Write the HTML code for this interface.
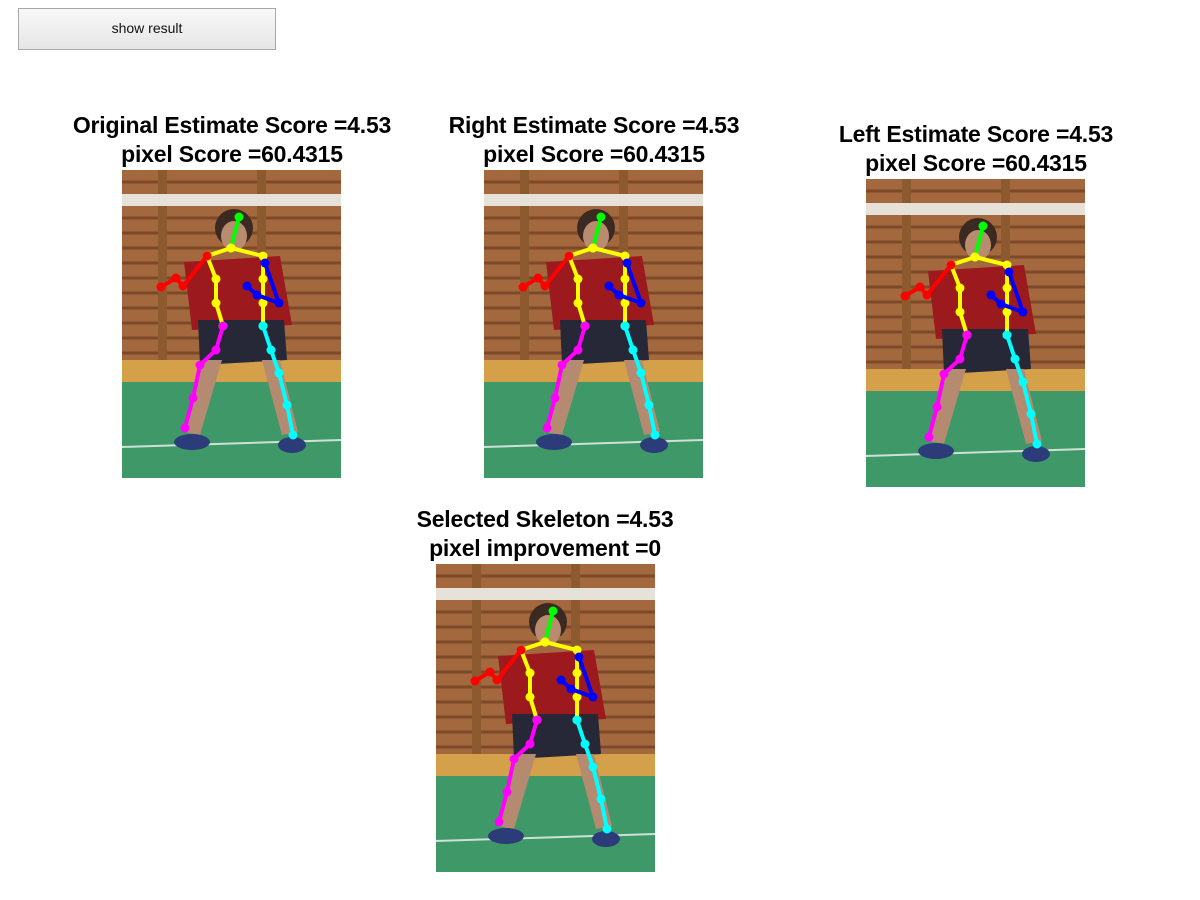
<!DOCTYPE html>
<html><head><meta charset="utf-8"><style>
body{margin:0;width:1200px;height:900px;background:#fff;position:relative;overflow:hidden;font-family:"Liberation Sans",Arial,sans-serif}
.btn{position:absolute;left:18px;top:8px;width:256px;height:40px;border:1px solid #a8a8a8;background:linear-gradient(#f8f8f8,#e6e6e6);font-size:14px;text-align:center;line-height:38px;color:#111}
.t{position:absolute;font-weight:bold;font-size:23px;text-align:center;width:460px;line-height:29px;color:#000;letter-spacing:-0.2px}
svg{position:absolute;left:0;top:0}
</style></head><body>
<div class="btn">show result</div>
<div class="t" style="left:2px;top:111px">Original Estimate Score =4.53<br>pixel Score =60.4315</div>
<div class="t" style="left:364px;top:111px">Right Estimate Score =4.53<br>pixel Score =60.4315</div>
<div class="t" style="left:746px;top:120px">Left Estimate Score =4.53<br>pixel Score =60.4315</div>
<div class="t" style="left:315px;top:505px">Selected Skeleton =4.53<br>pixel improvement =0</div>
<svg id="s" width="1200" height="900">
<defs>
<g id="photo">
<rect width="219" height="308" fill="#a4683e"/>
<g stroke="#7c4a28" stroke-width="3">
<line x1="0" y1="48" x2="219" y2="48"/><line x1="0" y1="63" x2="219" y2="63"/><line x1="0" y1="78" x2="219" y2="78"/><line x1="0" y1="93" x2="219" y2="93"/><line x1="0" y1="108" x2="219" y2="108"/><line x1="0" y1="123" x2="219" y2="123"/><line x1="0" y1="138" x2="219" y2="138"/><line x1="0" y1="153" x2="219" y2="153"/><line x1="0" y1="168" x2="219" y2="168"/><line x1="0" y1="183" x2="219" y2="183"/><line x1="0" y1="12" x2="219" y2="12"/>
</g>
<rect x="36" y="0" width="9" height="192" fill="#8c5a2e"/>
<rect x="135" y="0" width="9" height="192" fill="#8c5a2e"/>
<rect x="0" y="24" width="219" height="12" fill="#e6e2da"/>
<rect x="0" y="190" width="219" height="22" fill="#d4a04a"/>
<rect x="0" y="212" width="219" height="96" fill="#3f9868"/>
<line x1="0" y1="277" x2="219" y2="270" stroke="#cfe0d6" stroke-width="2"/>
<circle cx="112" cy="58" r="19" fill="#3a2a22"/>
<ellipse cx="112" cy="66" rx="13" ry="15" fill="#b98c70"/>
<path d="M62 92 L158 86 L170 155 L70 160 Z" fill="#9c1a1e"/>
<path d="M76 150 L162 150 L165 190 L78 195 Z" fill="#262838"/>
<path d="M80 190 L100 190 L78 265 L62 262 Z" fill="#b48a70"/>
<path d="M140 190 L158 190 L176 262 L160 265 Z" fill="#b48a70"/>
<ellipse cx="70" cy="272" rx="18" ry="8" fill="#2c3c78"/>
<ellipse cx="170" cy="275" rx="14" ry="8" fill="#2c3c78"/>
</g>
</defs>
</svg>
<script>
// skeleton joint coordinates (px within 219x308 image)
const head=[[117,47],[109,78]];
const redArm=[[85,86],[61,116],[54,108],[39,117]];
const yellowL=[[109,78],[85,86],[94,109],[94,133],[101,156]];
const yellowR=[[109,78],[141,86],[141,109],[141,133],[141,156]];
const blueArm=[[143,93],[157,133],[135,125],[125,116]];
const magentaLeg=[[101,156],[94,180],[78,195],[71,228],[63,258]];
const cyanLeg=[[141,156],[149,180],[157,203],[165,235],[171,265]];
const panels=[[122,170,"original"],[484,170,"right"],[866,179,"left"],[436,564,"selected"]];
const NS="http://www.w3.org/2000/svg", svg=document.getElementById('s');
const limbs=[[head,"#00ff00"],[yellowL,"#ffff00"],[yellowR,"#ffff00"],[redArm,"#ff0000"],[blueArm,"#0000ff"],[magentaLeg,"#ff00ff"],[cyanLeg,"#00ffff"]];
panels.forEach(p=>{
  const g=document.createElementNS(NS,'g');
  g.setAttribute('transform','translate('+p[0]+','+p[1]+')');
  
  
  const u=document.createElementNS(NS,'use');u.setAttribute('href','#photo');g.appendChild(u);
  limbs.forEach(l=>{
    const pl=document.createElementNS(NS,'polyline');
    pl.setAttribute('points',l[0].map(q=>q.join(',')).join(' '));
    pl.setAttribute('fill','none');pl.setAttribute('stroke',l[1]);pl.setAttribute('stroke-width','4');
    
    
    g.appendChild(pl);
    l[0].forEach(q=>{const c=document.createElementNS(NS,'circle');c.setAttribute('cx',q[0]);c.setAttribute('cy',q[1]);c.setAttribute('r','4.5');c.setAttribute('fill',l[1]);
      
      
      g.appendChild(c);});
  });
  svg.appendChild(g);
});
</script>
</body></html>
